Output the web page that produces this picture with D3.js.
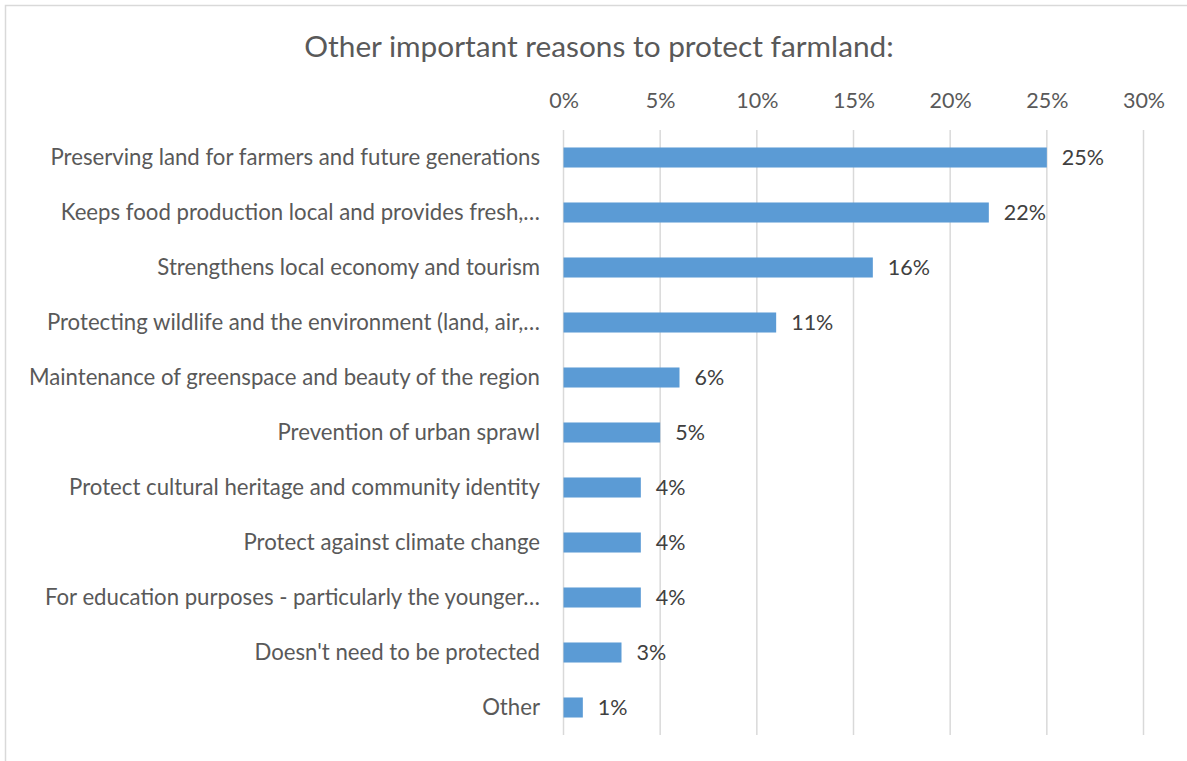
<!DOCTYPE html>
<html>
<head>
<meta charset="utf-8">
<script src="https://cdn.jsdelivr.net/npm/d3@7"></script>
<style>
  html, body { margin: 0; padding: 0; background: #fff; }
  svg { display: block; }
  text { font-family: Lato, "Open Sans", sans-serif; }
</style>
</head>
<body>
<svg id="chart" width="1187" height="761"></svg>
<script>
// Survey responses: other important reasons to protect farmland
const categories = [
  "Preserving land for farmers and future generations",
  "Keeps food production local and provides fresh,…",
  "Strengthens local economy and tourism",
  "Protecting wildlife and the environment (land, air,…",
  "Maintenance of greenspace and beauty of the region",
  "Prevention of urban sprawl",
  "Protect cultural heritage and community identity",
  "Protect against climate change",
  "For education purposes - particularly the younger…",
  "Doesn't need to be protected",
  "Other"
];
const values = [25, 22, 16, 11, 6, 5, 4, 4, 4, 3, 1];
const tickValues = [0, 5, 10, 15, 20, 25, 30];
const titleText = "Other important reasons to protect farmland:";

const svg = d3.select("#chart");

// chart frame
svg.append("rect")
  .attr("x", 5.5).attr("y", 5.5)
  .attr("width", 1200).attr("height", 800)
  .attr("fill", "#fff")
  .attr("stroke", "#d9d9d9")
  .attr("stroke-width", 1.5);

const x = d3.scaleLinear().domain([0, 30]).range([563.5, 1143.5]);
const y = d3.scaleBand().domain(categories).range([130, 735]).paddingInner(0.636).paddingOuter(0.318);

// title
svg.append("text")
  .attr("x", 599).attr("y", 57)
  .attr("text-anchor", "middle")
  .attr("fill", "#595959")
  .attr("font-size", 29.8)
  .text(titleText);

// vertical gridlines
svg.append("g")
  .selectAll("line")
  .data(tickValues)
  .join("line")
  .attr("x1", d => x(d)).attr("x2", d => x(d))
  .attr("y1", 130).attr("y2", 735)
  .attr("stroke", "#d9d9d9")
  .attr("stroke-width", 1.5);

// top axis labels
const xAxis = d3.axisTop(x)
  .tickValues(tickValues)
  .tickFormat(d => d + "%")
  .tickSize(0)
  .tickPadding(0);
const gx = svg.append("g")
  .attr("transform", "translate(0,108)")
  .call(xAxis);
gx.select(".domain").remove();
gx.selectAll("text")
  .attr("fill", "#595959")
  .attr("font-size", 21.5)
  .attr("font-family", "Lato, 'Open Sans', sans-serif");

// category labels
const yAxis = d3.axisLeft(y).tickSize(0).tickPadding(0);
const gy = svg.append("g")
  .attr("transform", "translate(540,0)")
  .call(yAxis);
gy.select(".domain").remove();
gy.selectAll("text")
  .attr("fill", "#595959")
  .attr("font-size", 22.2)
  .attr("font-family", "Lato, 'Open Sans', sans-serif");

// bars
svg.append("g")
  .selectAll("rect")
  .data(values)
  .join("rect")
  .attr("x", x(0))
  .attr("y", (d, i) => y(categories[i]))
  .attr("width", d => x(d) - x(0))
  .attr("height", y.bandwidth())
  .attr("fill", "#5b9bd5");

// value labels
svg.append("g")
  .selectAll("text")
  .data(values)
  .join("text")
  .attr("x", d => x(d) + 15)
  .attr("y", (d, i) => y(categories[i]) + y.bandwidth() / 2)
  .attr("dy", "0.35em")
  .attr("fill", "#404040")
  .attr("font-size", 21.5)
  .text(d => d + "%");
</script>
</body>
</html>
